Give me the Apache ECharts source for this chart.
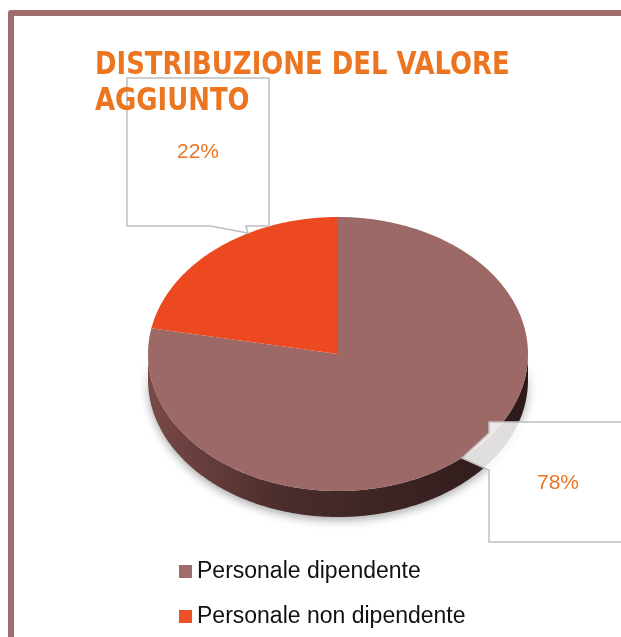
<!DOCTYPE html>
<html>
<head>
<meta charset="utf-8">
<script src="https://cdn.jsdelivr.net/npm/echarts@6/dist/echarts.min.js"></script>
<style>
html, body { margin: 0; padding: 0; background: #fff; }
#main { width: 621px; height: 637px; }
</style>
</head>
<body>
<div id="main"></div>
<script>
// dati del grafico
var categories = ['Personale dipendente', 'Personale non dipendente'];
var values = [78, 22];
var titleText = 'DISTRIBUZIONE DEL VALORE\nAGGIUNTO';
var sliceColors = ['#9C6967', '#EC4920'];
var legendColors = ['#A06B6B', '#EE5028'];

// geometria della torta 3D (ellisse)
var PIE = { cx: 338, cy: 354, rx: 190, ry: 137, depth: 26 };

var total = values.reduce(function (a, b) { return a + b; }, 0);

function sliceAngles(i) {
	var start = -Math.PI / 2;
	for (var k = 0; k < i; k++) {
		start += values[k] / total * Math.PI * 2;
	}
	return [start, start + values[i] / total * Math.PI * 2];
}

function arc(a, b, dy) {
	var pts = [];
	var n = Math.max(2, Math.ceil((b - a) / (Math.PI / 180)));
	for (var j = 0; j <= n; j++) {
		var t = a + (b - a) * j / n;
		pts.push([PIE.cx + PIE.rx * Math.cos(t), PIE.cy + PIE.ry * Math.sin(t) + dy]);
	}
	return pts;
}

function renderFace(i) {
	return function (params, api) {
		var ang = sliceAngles(i);
		var pts = [[PIE.cx, PIE.cy]].concat(arc(ang[0], ang[1], 0));
		return {
			type: 'polygon',
			shape: { points: pts },
			style: { fill: api.visual('color') }
		};
	};
}

function renderSide(params, api) {
	var children = [];
	for (var i = 0; i < values.length; i++) {
		var ang = sliceAngles(i);
		// solo la parte frontale (0..PI) e' visibile
		var a = Math.max(ang[0], 0), b = Math.min(ang[1], Math.PI);
		if (b <= a) continue;
		var top = arc(a, b, 0);
		var bottom = arc(a, b, PIE.depth).reverse();
		children.push({
			type: 'polygon',
			shape: { points: top.concat(bottom) },
			style: {
				fill: {
					type: 'linear', x: PIE.cx - PIE.rx, y: 0, x2: PIE.cx + PIE.rx, y2: 0, global: true,
					colorStops: [
						{ offset: 0, color: '#7a4947' },
						{ offset: 0.35, color: '#4a2d2c' },
						{ offset: 1, color: '#2c1a1a' }
					]
				},
				shadowBlur: 10,
				shadowColor: 'rgba(0,0,0,0.35)',
				shadowOffsetY: 3
			}
		});
	}
	return { type: 'group', children: children };
}

function pct(i) {
	return Math.round(values[i] / total * 100) + '%';
}

var chart = echarts.init(document.getElementById('main'));

var series = [{
	type: 'custom',
	name: '_side',
	coordinateSystem: 'none',
	silent: true,
	z: 1,
	data: [0],
	renderItem: renderSide
}];
categories.forEach(function (c, i) {
	series.push({
		type: 'custom',
		name: c,
		coordinateSystem: 'none',
		z: 2,
		data: [values[i]],
		itemStyle: { color: sliceColors[i] },
		renderItem: renderFace(i)
	});
});

var labelFont = "'Liberation Sans', sans-serif";

chart.setOption({
	animation: false,
	legend: {
		orient: 'vertical',
		left: 174,
		top: 555,
		itemWidth: 13,
		itemHeight: 13,
		itemGap: 22,
		icon: 'rect',
		data: categories.map(function (c, i) {
			return { name: c, itemStyle: { color: legendColors[i] } };
		}),
		textStyle: { color: '#111', fontSize: 23, fontFamily: labelFont }
	},
	graphic: [
		{
			type: 'polyline',
			shape: { points: [[11, 637], [11, 13], [621, 13]] },
			style: { stroke: '#A06C6C', lineWidth: 6, lineJoin: 'round', fill: null },
			z: 30
		},
		{
			type: 'polygon',
			shape: { points: [[127, 78], [269, 78], [269, 226], [246, 226], [248, 233], [210, 226], [127, 226]] },
			style: { fill: '#fff', stroke: '#BFBFBF', lineWidth: 1.5 },
			z: 10
		},
		{
			type: 'text',
			x: 198, y: 152,
			style: { text: pct(1), fill: '#EB7520', font: '21px ' + labelFont, align: 'center', verticalAlign: 'middle' },
			z: 11
		},
		{
			type: 'polygon',
			shape: { points: [[489, 422], [630, 422], [630, 542], [489, 542], [489, 470], [462, 458], [489, 433]] },
			style: { fill: 'rgba(255,255,255,0.85)', stroke: '#BFBFBF', lineWidth: 1.5 },
			z: 10
		},
		{
			type: 'text',
			x: 558, y: 483,
			style: { text: pct(0), fill: '#EB7520', font: '21px ' + labelFont, align: 'center', verticalAlign: 'middle' },
			z: 11
		},
		{
			type: 'text',
			x: 95, y: 48,
			scaleX: 0.9,
			style: {
				text: titleText,
				fill: '#EB7520',
				font: "bold 32px 'DejaVu Sans Condensed', 'Liberation Sans', sans-serif",
				lineHeight: 36,
				align: 'left',
				verticalAlign: 'top'
			},
			z: 20
		}
	],
	series: series
});
</script>
</body>
</html>
